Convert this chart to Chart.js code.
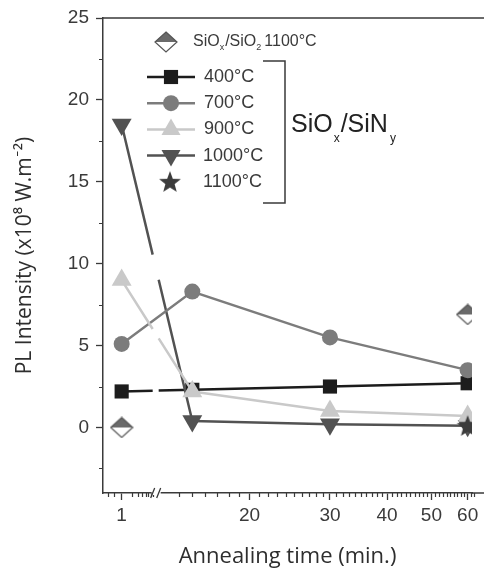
<!DOCTYPE html>
<html>
<head>
<meta charset="utf-8">
<script src="https://cdn.jsdelivr.net/npm/chart.js@4.4.1/dist/chart.umd.min.js"></script>
<style>
  html, body { margin: 0; padding: 0; background: #fff; }
  #wrap { width: 484px; height: 573px; }
</style>
</head>
<body>
<div id="wrap"><canvas id="plChart"></canvas></div>
<script>
// annealing time (min) and PL intensity (x10^8 W.m^-2)
var times = [1, 15, 30, 60];
var pl400 = [2.2, 2.3, 2.5, 2.7];
var pl700 = [5.1, 8.3, 5.5, 3.5];
var pl900 = [9.0, 2.2, 1.0, 0.7];
var pl1000 = [18.5, 0.4, 0.2, 0.1];
var times1100 = [60];
var pl1100 = [0.1];
var timesSiO2 = [1, 60];
var plSiO2 = [0, 6.9];
var xTickLabels = [1, 20, 30, 40, 50, 60];
var yTickLabels = [0, 5, 10, 15, 20, 25];
var xMinorTicks = [];
for (var m = 14; m <= 62; m++) { if (m % 10 !== 0) xMinorTicks.push(m); }
var xMinorLeft = [0.4, 0.6, 2, 3, 4, 5, 6, 7, 8];
var yMinorTicks = [-2.5, 2.5, 7.5, 12.5, 17.5, 22.5];

// broken time axis: t = 1 sits just right of the left edge, the rest is log
var ONE_POS = 1.0216;
var LEFT_DECADE = 0.075;
var BREAK_POS = 1.0960;
function xPos(t) { return t === 1 ? ONE_POS : Math.log10(t); }
function leftPos(t) { return ONE_POS + Math.log10(t) * LEFT_DECADE; }
function pts(xs, ys) { return xs.map(function (x, i) { return { x: xPos(x), y: ys[i] }; }); }

var INK = '#3a3a3a';
var C400 = '#1c1c1c', C700 = '#7c7c7c', C900 = '#c9c9c9', C1000 = '#525252', C1100 = '#3c3c3c';

function makeDiamond(w, h) {
  var c = document.createElement('canvas');
  c.width = w; c.height = h;
  var g = c.getContext('2d');
  var cx = w / 2, cy = h / 2;
  g.beginPath(); g.moveTo(cx, 1); g.lineTo(w - 1, cy); g.lineTo(1, cy); g.closePath();
  g.fillStyle = '#6a6a6a'; g.fill();
  g.beginPath(); g.moveTo(1, cy); g.lineTo(w - 1, cy); g.lineTo(cx, h - 1); g.closePath();
  g.fillStyle = '#fff'; g.fill();
  g.beginPath(); g.moveTo(cx, 1); g.lineTo(w - 1, cy); g.lineTo(cx, h - 1); g.lineTo(1, cy); g.closePath();
  g.strokeStyle = '#555'; g.lineWidth = 1.2; g.stroke();
  return c;
}

function makeStar(size, color) {
  var c = document.createElement('canvas');
  c.width = size; c.height = size;
  var g = c.getContext('2d');
  var cx = size / 2, cy = size / 2 + 0.8, ro = size / 2 - 0.5, ri = ro * 0.42;
  g.beginPath();
  for (var i = 0; i < 10; i++) {
    var r = i % 2 === 0 ? ro : ri;
    var a = -Math.PI / 2 + i * Math.PI / 5;
    g.lineTo(cx + r * Math.cos(a), cy + r * Math.sin(a));
  }
  g.closePath();
  g.fillStyle = color; g.fill();
  return c;
}

var diamondImg = makeDiamond(24, 22);
var starImg = makeStar(24, C1100);

// leave a short gap where a line crosses the axis break
function breakGap(ctx) {
  var a = ctx.p0, b = ctx.p1;
  var bx = ctx.chart.scales.x.getPixelForValue(BREAK_POS);
  var g0 = bx - 3, g1 = bx + 3;
  if (!(a.x < g0 && b.x > g1)) return undefined;
  var len = Math.hypot(b.x - a.x, b.y - a.y);
  var t0 = (g0 - a.x) / (b.x - a.x);
  var t1 = (g1 - a.x) / (b.x - a.x);
  return [t0 * len, (t1 - t0) * len, len * 2];
}

function seriesSet(label, data, color, style, radius, order, gap) {
  return {
    label: label,
    data: data,
    borderColor: color,
    backgroundColor: color,
    borderWidth: 2.5,
    pointStyle: style,
    pointRadius: radius,
    pointHoverRadius: radius,
    pointBorderWidth: 0,
    pointBackgroundColor: color,
    pointRotation: style === 'triangle' && label === '1000°C' ? 180 : 0,
    order: order,
    segment: gap ? { borderDash: breakGap } : undefined
  };
}

var minorTicks = {
  id: 'minorTicks',
  afterDraw: function (chart) {
    var ctx = chart.ctx, x = chart.scales.x, y = chart.scales.y, area = chart.chartArea;
    ctx.save();
    ctx.strokeStyle = INK;
    ctx.lineWidth = 1.2;
    ctx.beginPath();
    yMinorTicks.forEach(function (v) {
      var py = Math.round(y.getPixelForValue(v)) + 0.5;
      ctx.moveTo(area.left - 4, py); ctx.lineTo(area.left, py);
    });
    var xs = xMinorTicks.map(xPos).concat(xMinorLeft.map(leftPos));
    xs.forEach(function (v) {
      var px = Math.round(x.getPixelForValue(v)) + 0.5;
      if (px > chart.width - 1) return;
      ctx.moveTo(px, area.bottom); ctx.lineTo(px, area.bottom + 4);
    });
    ctx.stroke();
    // top frame line, and the bottom axis running on to the edge
    ctx.lineWidth = 1.5;
    ctx.beginPath();
    ctx.moveTo(area.left, area.top); ctx.lineTo(chart.width, area.top);
    ctx.moveTo(area.right, area.bottom); ctx.lineTo(chart.width, area.bottom);
    ctx.stroke();
    // axis break mark
    var bx = x.getPixelForValue(BREAK_POS);
    ctx.fillStyle = '#fff';
    ctx.fillRect(bx - 4, area.bottom - 2, 9, 4);
    ctx.lineWidth = 1.3;
    ctx.beginPath();
    ctx.moveTo(bx - 5, area.bottom + 5); ctx.lineTo(bx - 1, area.bottom - 5);
    ctx.moveTo(bx + 1, area.bottom + 5); ctx.lineTo(bx + 5, area.bottom - 5);
    ctx.stroke();
    ctx.restore();
  }
};

function drawRuns(ctx, x, y, runs) {
  runs.forEach(function (r) {
    ctx.font = r.size + 'px "Liberation Sans", Arial, sans-serif';
    ctx.fillText(r.t, x, y + (r.dy || 0));
    x += ctx.measureText(r.t).width + (r.gap || 0);
  });
}

function markerShape(ctx, style, cx, cy, r, color) {
  ctx.fillStyle = color;
  ctx.beginPath();
  if (style === 'rect') {
    var s = r * Math.SQRT1_2;
    ctx.rect(cx - s, cy - s, 2 * s, 2 * s);
  } else if (style === 'circle') {
    ctx.arc(cx, cy, r, 0, Math.PI * 2);
  } else if (style === 'up' || style === 'down') {
    var sgn = style === 'up' ? 1 : -1;
    for (var i = 0; i < 3; i++) {
      var a = i * 2 * Math.PI / 3;
      ctx.lineTo(cx + Math.sin(a) * r, cy - sgn * Math.cos(a) * r);
    }
    ctx.closePath();
  }
  ctx.fill();
}

var legendBox = {
  id: 'legendBox',
  afterDraw: function (chart) {
    var ctx = chart.ctx;
    ctx.save();
    ctx.fillStyle = INK;
    ctx.textBaseline = 'middle';
    ctx.drawImage(diamondImg, 166 - 12, 42 - 11);
    ctx.fillStyle = INK;
    drawRuns(ctx, 193, 42, [
      { t: 'SiO', size: 16 }, { t: 'x', size: 9, dy: 6, gap: 1 },
      { t: '/SiO', size: 16 }, { t: '2', size: 9, dy: 6, gap: 3 },
      { t: '1100°C', size: 16 }
    ]);
    var rows = [
      { label: '400°C', color: C400, style: 'rect', r: 10, line: true },
      { label: '700°C', color: C700, style: 'circle', r: 8, line: true },
      { label: '900°C', color: C900, style: 'up', r: 11, line: true },
      { label: '1000°C', color: C1000, style: 'down', r: 11, line: true },
      { label: '1100°C', color: C1100, style: 'star', r: 11, line: false }
    ];
    rows.forEach(function (row, i) {
      var yy = 77 + i * 26.2;
      if (row.line) {
        ctx.strokeStyle = row.color;
        ctx.lineWidth = 2.5;
        ctx.beginPath(); ctx.moveTo(147, yy); ctx.lineTo(195, yy); ctx.stroke();
      }
      if (row.style === 'star') ctx.drawImage(starImg, 170 - 12, yy - 12);
      else markerShape(ctx, row.style, 171, yy, row.r, row.color);
      ctx.fillStyle = INK;
      ctx.font = '18px "Liberation Sans", Arial, sans-serif';
      ctx.fillText(row.label, row.label.length > 5 ? 203 : 204, yy);
    });
    // bracket grouping the SiOx/SiNy samples
    ctx.strokeStyle = INK;
    ctx.lineWidth = 1.5;
    ctx.beginPath();
    ctx.moveTo(263, 61); ctx.lineTo(285, 61); ctx.lineTo(285, 203); ctx.lineTo(263, 203);
    ctx.stroke();
    ctx.fillStyle = '#222';
    drawRuns(ctx, 291, 125, [
      { t: 'SiO', size: 25, gap: 1 }, { t: 'x', size: 12, dy: 14, gap: 1 },
      { t: '/SiN', size: 25, gap: 2 }, { t: 'y', size: 12, dy: 14 }
    ]);
    ctx.restore();
  }
};

var tickFont = { family: '"Liberation Sans", Arial, sans-serif', size: 19 };

new Chart(document.getElementById('plChart'), {
  type: 'line',
  data: {
    datasets: [
      seriesSet('400°C', pts(times, pl400), C400, 'rect', 10, 6, true),
      seriesSet('1000°C', pts(times, pl1000), C1000, 'triangle', 11.5, 5, true),
      seriesSet('700°C', pts(times, pl700), C700, 'circle', 8, 4, false),
      seriesSet('900°C', pts(times, pl900), C900, 'triangle', 11.5, 3, true),
      {
        label: '1100°C', data: pts(times1100, pl1100), showLine: false,
        pointStyle: starImg, pointRadius: 11, order: 2
      },
      {
        label: 'SiOx/SiO2 1100°C', data: pts(timesSiO2, plSiO2), showLine: false,
        pointStyle: diamondImg, pointRadius: 11, order: 1
      }
    ]
  },
  options: {
    responsive: true,
    maintainAspectRatio: false,
    animation: false,
    layout: { padding: { top: 18, right: 1, left: 0, bottom: 0 } },
    plugins: { legend: { display: false }, tooltip: { enabled: false } },
    scales: {
      x: {
        type: 'linear',
        min: 0.9808,
        max: 1.7877,
        afterFit: function (s) { s.height = 80; s.paddingLeft = 0; s.paddingRight = 0; },
        afterBuildTicks: function (s) {
          s.ticks = xTickLabels.map(function (t) { return { value: xPos(t) }; });
        },
        ticks: {
          font: tickFont,
          color: INK,
          padding: 4,
          maxRotation: 0,
          autoSkip: false,
          callback: function (v, i) { return String(xTickLabels[i]); }
        },
        grid: { drawOnChartArea: false, drawTicks: true, tickLength: 7, tickColor: INK, tickWidth: 1.3 },
        border: { display: true, color: INK, width: 1.5 },
        title: {
          display: true,
          text: 'Annealing time (min.)',
          color: '#2e2e2e',
          font: { family: '"Open Sans", Lato, sans-serif', size: 22 },
          padding: { top: 0, bottom: 3 }
        }
      },
      y: {
        min: -4,
        max: 25,
        afterFit: function (s) { s.width = 103; s.paddingTop = 0; s.paddingBottom = 0; },
        afterBuildTicks: function (s) {
          s.ticks = yTickLabels.map(function (v) { return { value: v }; });
        },
        ticks: { font: tickFont, color: INK, padding: 7 },
        grid: { drawOnChartArea: false, drawTicks: true, tickLength: 7, tickColor: INK, tickWidth: 1.3 },
        border: { display: true, color: INK, width: 1.5 },
        title: {
          display: true,
          text: 'PL Intensity (x10⁸ W.m⁻²)',
          color: '#2e2e2e',
          font: { family: '"Open Sans", Lato, sans-serif', size: 21 },
          padding: { top: 12, bottom: 0 }
        }
      }
    }
  },
  plugins: [minorTicks, legendBox]
});
</script>
</body>
</html>
